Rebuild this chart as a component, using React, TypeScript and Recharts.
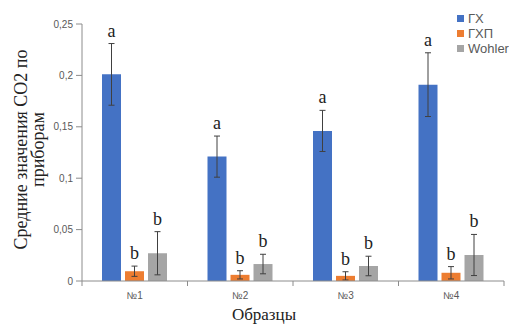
import React from 'react';
import { BarChart, Bar, XAxis, YAxis, Legend, ErrorBar, LabelList } from 'recharts';

const samples = ['№1', '№2', '№3', '№4'];
const gx = [0.201, 0.121, 0.146, 0.191];
const gxErr = [0.03, 0.02, 0.02, 0.031];
const gxp = [0.0095, 0.006, 0.005, 0.008];
const gxpErr = [0.005, 0.004, 0.004, 0.006];
const wohler = [0.027, 0.0165, 0.0146, 0.0253];
const wohlerErr = [0.021, 0.0095, 0.0095, 0.02];
const gxLetters = ['a', 'a', 'a', 'a'];
const gxpLetters = ['b', 'b', 'b', 'b'];
const wohlerLetters = ['b', 'b', 'b', 'b'];
const seriesNames = ['ГХ', 'ГХП', 'Wohler'];
const yTicks = [0, 0.05, 0.1, 0.15, 0.2, 0.25];

const data = samples.map((name, i) => ({
  name,
  gx: gx[i],
  gxErr: gxErr[i],
  gxp: gxp[i],
  gxpErr: gxpErr[i],
  wohler: wohler[i],
  wohlerErr: wohlerErr[i],
}));

const SERIF = '"Liberation Serif", "Times New Roman", serif';
const SANS = '"Liberation Sans", Arial, sans-serif';
const AXIS = '#8c8c8c';
const TEXT = '#595959';

// letter sits just above the whisker; px per unit taken from the bar itself
const letterLabel = (errs: number[], letters: string[]) => (props: any) => {
  const vb = props.viewBox || {};
  const x = props.x ?? vb.x;
  const y = props.y ?? vb.y;
  const w = props.width ?? vb.width;
  const h = props.height ?? vb.height;
  const i = props.index;
  const v = Number(props.value);
  if (!v || i == null) return null;
  const top = y - (errs[i] * h) / v;
  return (
    <text x={x + w / 2} y={top - 7} textAnchor="middle" fontFamily={SERIF} fontSize={18} fill="#222">
      {letters[i]}
    </text>
  );
};

const SampleTick = (props: any) => {
  const { x, y, payload, index, visibleTicksCount } = props;
  const off = payload.offset || 0;
  const axisY = y - 11;
  return (
    <g>
      <line x1={x - off} y1={axisY} x2={x - off} y2={axisY + 5} stroke={AXIS} />
      {index === visibleTicksCount - 1 && (
        <line x1={x + off} y1={axisY} x2={x + off} y2={axisY + 5} stroke={AXIS} />
      )}
      <text x={x} y={y} dy="0.71em" textAnchor="middle" fontFamily={SANS} fontSize={10} fill={TEXT}>
        {payload.value}
      </text>
    </g>
  );
};

const LegendBox = (props: any) => {
  const items = [...(props.payload || [])].sort(
    (a: any, b: any) => seriesNames.indexOf(a.value) - seriesNames.indexOf(b.value)
  );
  return (
    <div style={{ fontFamily: SANS, fontSize: 13, color: TEXT, lineHeight: '15px' }}>
      {items.map((p: any) => (
        <div key={p.value} style={{ display: 'flex', alignItems: 'center', whiteSpace: 'nowrap' }}>
          <span style={{ width: 7, height: 7, background: p.color, marginRight: 4, display: 'inline-block' }} />
          {p.value}
        </div>
      ))}
    </div>
  );
};

export default function App() {
  return (
    <div style={{ position: 'absolute', left: 0, top: 0, width: 509, height: 325, background: '#fff', overflow: 'hidden' }}>
      <BarChart
        width={509}
        height={325}
        data={data}
        margin={{ top: 24, right: 5, left: 42, bottom: 14 }}
        barCategoryGap={20}
        barGap={4}
      >
        <XAxis
          dataKey="name"
          height={30}
          stroke={AXIS}
          tickLine={false}
          tickSize={5}
          tickMargin={6}
          tick={<SampleTick />}
          label={{
            content: (p: any) => {
              const vb = p.viewBox || {};
              return (
                <text x={vb.x + vb.width / 2 - 29} y={320} textAnchor="middle" fontFamily={SERIF} fontSize={17} fill="#222">
                  Образцы
                </text>
              );
            },
          }}
        />
        <YAxis
          width={40}
          domain={[0, 0.25]}
          ticks={yTicks}
          stroke={AXIS}
          tickSize={6}
          tickMargin={3}
          tick={{ fontFamily: SANS, fontSize: 10, fill: TEXT }}
          tickFormatter={(v: number) => String(v).replace('.', ',')}
          label={{
            content: (p: any) => {
              const vb = p.viewBox || {};
              const cy = vb.y + vb.height / 2 - 3;
              return (
                <text transform={`translate(27, ${cy}) rotate(-90)`} textAnchor="middle" fontFamily={SERIF} fontSize={18} fill="#222">
                  <tspan x={0} y={0}>Средние значения CO2 по</tspan>
                  <tspan x={0} y={17}>приборам</tspan>
                </text>
              );
            },
          }}
        />
        <Legend
          layout="vertical"
          align="center"
          verticalAlign="middle"
          content={<LegendBox />}
          wrapperStyle={{ left: 457, top: 11, width: 60, height: 50 }}
        />
        <Bar dataKey="gx" name="ГХ" fill="#4472C4" barSize={19} isAnimationActive={false}>
          <ErrorBar dataKey="gxErr" direction="y" width={3} stroke="#404040" strokeWidth={1} />
          <LabelList dataKey="gx" content={letterLabel(gxErr, gxLetters)} />
        </Bar>
        <Bar dataKey="gxp" name="ГХП" fill="#ED7D31" barSize={19} isAnimationActive={false}>
          <ErrorBar dataKey="gxpErr" direction="y" width={3} stroke="#404040" strokeWidth={1} />
          <LabelList dataKey="gxp" content={letterLabel(gxpErr, gxpLetters)} />
        </Bar>
        <Bar dataKey="wohler" name="Wohler" fill="#A5A5A5" barSize={19} isAnimationActive={false}>
          <ErrorBar dataKey="wohlerErr" direction="y" width={3} stroke="#404040" strokeWidth={1} />
          <LabelList dataKey="wohler" content={letterLabel(wohlerErr, wohlerLetters)} />
        </Bar>
      </BarChart>
    </div>
  );
}
